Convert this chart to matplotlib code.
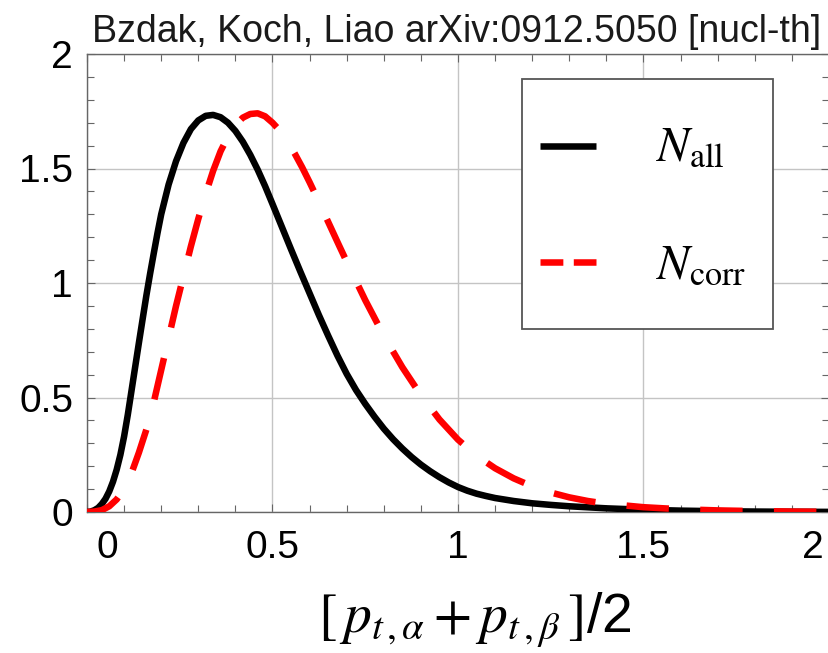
import matplotlib
matplotlib.use("Agg")
import matplotlib.pyplot as plt
import matplotlib.transforms as mtransforms
from matplotlib.lines import Line2D
from matplotlib.patches import Rectangle
from matplotlib.ticker import MultipleLocator

plt.rcParams["mathtext.fontset"] = "stix"

# pair momentum distributions
pt_all = [0.00, 0.01, 0.02, 0.03, 0.04, 0.05, 0.06, 0.07, 0.08, 0.09, 0.10,
          0.11, 0.12, 0.13, 0.14, 0.15, 0.16, 0.17, 0.18, 0.19, 0.20, 0.22,
          0.24, 0.26, 0.28, 0.30, 0.32, 0.34, 0.36, 0.38, 0.40, 0.42, 0.44,
          0.46, 0.48, 0.50, 0.525, 0.55, 0.575, 0.60, 0.625, 0.65, 0.675,
          0.70, 0.725, 0.75, 0.775, 0.80, 0.825, 0.85, 0.875, 0.90, 0.925,
          0.95, 0.975, 1.00, 1.025, 1.05, 1.075, 1.10, 1.15, 1.20, 1.25, 1.30,
          1.40, 1.50, 1.60, 1.70, 1.80, 1.90, 2.00]
n_all = [0.000, 0.002, 0.008, 0.018, 0.035, 0.058, 0.090, 0.132, 0.185, 0.250,
         0.330, 0.425, 0.530, 0.635, 0.740, 0.843, 0.945, 1.040, 1.130, 1.218,
         1.300, 1.430, 1.532, 1.612, 1.672, 1.710, 1.730, 1.734, 1.724, 1.700,
         1.664, 1.617, 1.560, 1.495, 1.423, 1.345, 1.246, 1.147, 1.050, 0.955,
         0.860, 0.770, 0.683, 0.603, 0.533, 0.472, 0.416, 0.364, 0.318, 0.277,
         0.240, 0.207, 0.178, 0.152, 0.129, 0.109, 0.093, 0.080, 0.070, 0.061,
         0.048, 0.038, 0.031, 0.025, 0.016, 0.010, 0.006, 0.0035, 0.002, 0.001,
         0.0005]

pt_corr = [0.00, 0.02, 0.04, 0.06, 0.08, 0.10, 0.12, 0.14, 0.16, 0.18, 0.20,
           0.22, 0.24, 0.26, 0.28, 0.30, 0.32, 0.34, 0.36, 0.38, 0.40, 0.42,
           0.44, 0.46, 0.48, 0.50, 0.52, 0.54, 0.56, 0.58, 0.60, 0.62, 0.64,
           0.66, 0.68, 0.70, 0.75, 0.80, 0.85, 0.90, 0.95, 1.00, 1.05, 1.10,
           1.15, 1.20, 1.25, 1.30, 1.35, 1.40, 1.50, 1.60, 1.70, 1.80, 1.90,
           2.00]
n_corr = [0.000, 0.002, 0.008, 0.025, 0.055, 0.100, 0.170, 0.260, 0.360, 0.480,
          0.620, 0.760, 0.900, 1.030, 1.160, 1.280, 1.390, 1.490, 1.575, 1.640,
          1.690, 1.722, 1.738, 1.741, 1.728, 1.700, 1.665, 1.620, 1.565, 1.505,
          1.440, 1.372, 1.302, 1.232, 1.162, 1.093, 0.925, 0.770, 0.632, 0.510,
          0.404, 0.316, 0.246, 0.191, 0.147, 0.112, 0.085, 0.064, 0.048, 0.036,
          0.021, 0.012, 0.007, 0.004, 0.002, 0.001]

x_ticks = [0, 0.5, 1, 1.5, 2]
x_tick_labels = ["0", "0.5", "1", "1.5", "2"]
y_ticks = [0, 0.5, 1, 1.5, 2]
y_tick_labels = ["0", "0.5", "1", "1.5", "2"]

series_labels = [r"$N_{\mathrm{all}}$", r"$N_{\mathrm{corr}}$"]

W, H = 829, 653
fig = plt.figure(figsize=(W / 100, H / 100), dpi=100)
ax = fig.add_axes([87 / W, 1 - 512 / H, 742 / W, 458 / H])

lw = 4.7
ax.plot(pt_all, n_all, color="black", lw=lw, solid_capstyle="butt",
        solid_joinstyle="round", zorder=3)
ax.plot(pt_corr, n_corr, color="#ff0000", lw=lw, linestyle=(1.0, (6.5, 4.8)),
        dash_capstyle="butt", dash_joinstyle="round", zorder=4)

ax.set_xlim(0, 2)
ax.set_ylim(0, 2)

ax.set_xticks(x_ticks)
ax.set_xticklabels(x_tick_labels)
ax.set_yticks(y_ticks)
ax.set_yticklabels(y_tick_labels)
ax.xaxis.set_minor_locator(MultipleLocator(0.1))
ax.yaxis.set_minor_locator(MultipleLocator(0.1))

ax.grid(True, which="major", color="#c4c4c4", lw=1.0, zorder=0)
ax.set_axisbelow(True)

for s in ax.spines.values():
    s.set_color("#666666")
    s.set_linewidth(1.0)

ax.tick_params(which="both", direction="in", top=True, right=True,
               color="#666666", width=0.8)
ax.tick_params(which="major", length=6)
ax.tick_params(which="minor", length=5)
ax.tick_params(axis="x", which="major", pad=13)
ax.tick_params(axis="y", which="major", pad=10)

for lab in ax.get_xticklabels() + ax.get_yticklabels():
    lab.set_fontfamily("Liberation Sans")
    lab.set_fontsize(28)

# keep the end labels inside the frame
xt = ax.xaxis.get_major_ticks()
xt[0].label1.set_transform(xt[0].label1.get_transform() +
                           mtransforms.ScaledTranslation(20 / 100, 0, fig.dpi_scale_trans))
xt[-1].label1.set_transform(xt[-1].label1.get_transform() +
                            mtransforms.ScaledTranslation(-16 / 100, 0, fig.dpi_scale_trans))

ax.set_xlabel(r"$[\,p_{t\,,\alpha}+p_{t\,,\beta}\,]$/2", fontsize=40,
              fontfamily="Liberation Sans")
ax.xaxis.set_label_coords(0.523, -0.1725)

fig.text(457 / W, 1 - 42 / H, "Bzdak, Koch, Liao arXiv:0912.5050 [nucl-th]",
         ha="center", va="baseline", fontsize=27,
         family="Liberation Sans", color="#1a1a1a")

# legend panel
ax.add_patch(Rectangle((0.5857, 0.3996), 0.9244 - 0.5857, 0.9454 - 0.3996,
                       transform=ax.transAxes, facecolor="white",
                       edgecolor="#555555", lw=1.3, zorder=6))
ax.add_line(Line2D([0.610, 0.6856], [0.799, 0.799], transform=ax.transAxes,
                   color="black", lw=lw, solid_capstyle="butt", zorder=7))
ax.add_line(Line2D([0.610, 0.6856], [0.546, 0.546], transform=ax.transAxes,
                   color="#ff0000", lw=lw, dashes=(3.5, 1.6),
                   dash_capstyle="butt", zorder=7))
ax.text(0.7665, 0.768, series_labels[0], transform=ax.transAxes,
        fontsize=35, va="baseline", ha="left", zorder=8)
ax.text(0.7665, 0.511, series_labels[1], transform=ax.transAxes,
        fontsize=35, va="baseline", ha="left", zorder=8)

fig.savefig("out.png", dpi=100)
